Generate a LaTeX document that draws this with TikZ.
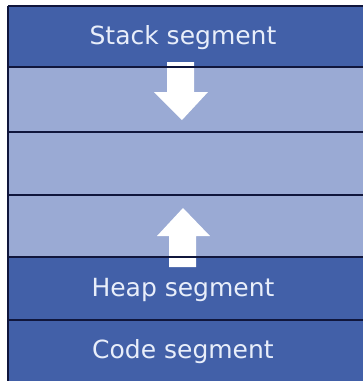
\documentclass[tikz,border=0pt]{standalone}
\usepackage{fontspec}
\setmainfont{DejaVu Sans}
\begin{document}
\begin{tikzpicture}[x=1pt,y=-1pt,
  seglabel/.style={text=segtext,font=\fontsize{25}{30}\selectfont,inner sep=0pt},
  sepline/.style={draw=segline,line width=2pt},
  bigarrow/.style={fill=white,draw=none}]
\definecolor{segdark}{RGB}{66,96,168}
\definecolor{seglight}{RGB}{154,170,212}
\definecolor{segtext}{RGB}{232,238,250}
\definecolor{segline}{RGB}{16,22,60}
\useasboundingbox (0,0) rectangle (363,381);
\fill[white] (0,0) rectangle (363,381);
% bands
\fill[segdark] (8,6) rectangle (363,67);
\fill[seglight] (8,67) rectangle (363,257);
\fill[segdark] (8,257) rectangle (363,381);
% arrows
\fill[bigarrow] (167,62) -- (194,62) -- (194,92) -- (208,92) -- (182,120) -- (154,92) -- (167,92) -- cycle;
\fill[bigarrow] (169,267) -- (196,267) -- (196,236) -- (210,236) -- (183,208) -- (157,236) -- (169,236) -- cycle;
% separator lines
\draw[sepline] (8,6) -- (363,6);
\draw[sepline] (8,67) -- (363,67);
\draw[sepline] (8,132) -- (363,132);
\draw[sepline] (8,195) -- (363,195);
\draw[sepline] (8,257) -- (363,257);
\draw[sepline] (8,320) -- (363,320);
\draw[sepline] (8,6) -- (8,381);
% labels
\node[seglabel] (stack) at (183,38) {Stack segment};
\node[seglabel] (heap) at (183,290) {Heap segment};
\node[seglabel] (code) at (183,352) {Code segment};
\end{tikzpicture}
\end{document}
